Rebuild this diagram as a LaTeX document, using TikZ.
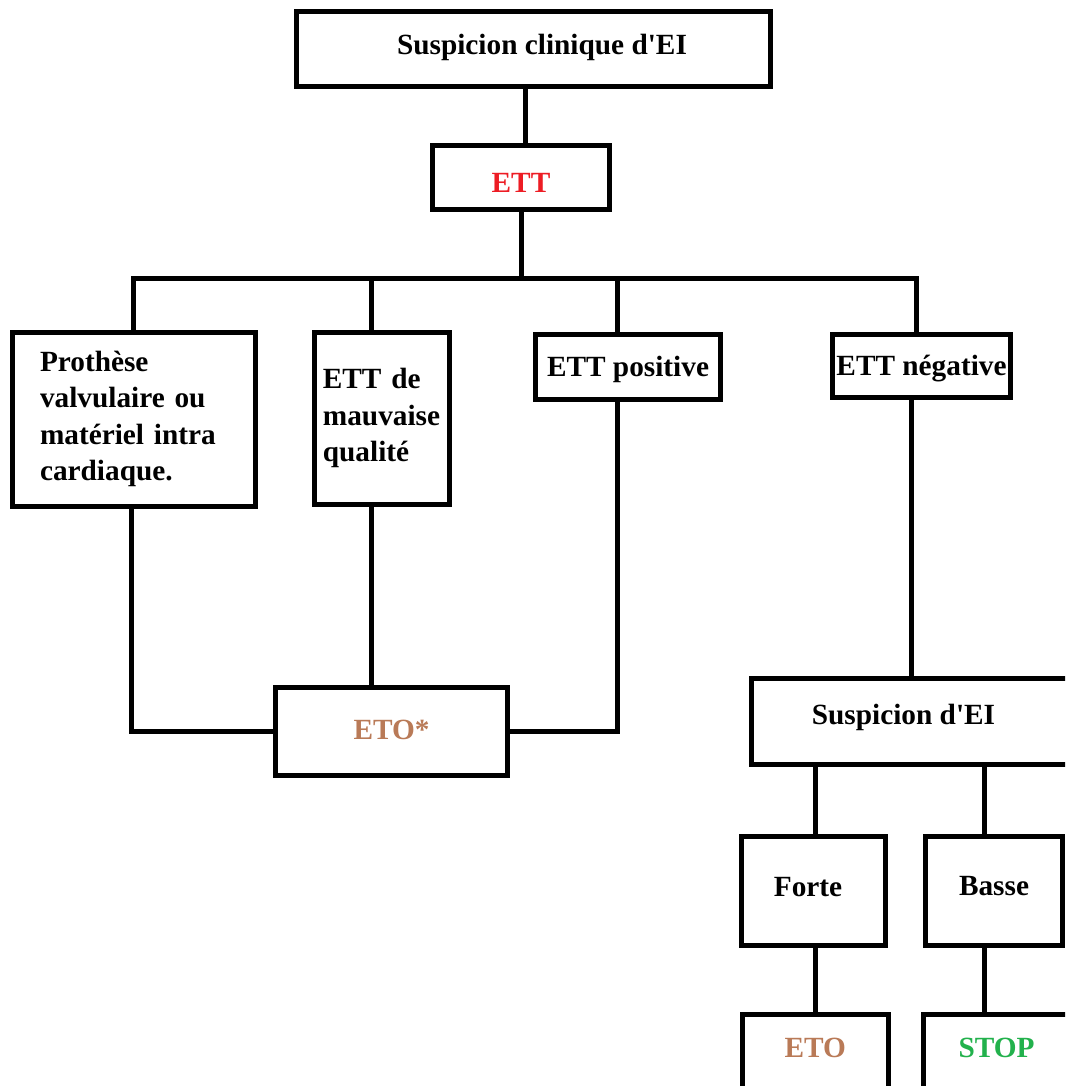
\documentclass[tikz,border=0pt]{standalone}
\usepackage{fontspec}
\setmainfont{Liberation Serif}[Ligatures=TeXOff]
\definecolor{ettred}{HTML}{ED1C24}
\definecolor{etobrown}{HTML}{B97A57}
\definecolor{stopgreen}{HTML}{22B14C}
\begin{document}
\begin{tikzpicture}[x=1pt,y=-1pt,line width=5pt,line join=miter,
  every node/.style={font=\bfseries\fontsize{29.3}{36.5}\selectfont},
  box/.style={draw,line width=5pt,rectangle,inner sep=0pt},
  multi/.style={box,align=left}]
\useasboundingbox (0,0) rectangle (1065,1086);
\clip (0,0) rectangle (1065,1086);

% boxes
\node[box,minimum width=474pt,minimum height=75pt,text height=21pt,text depth=10pt] (top) at (533.5,49.5) {\hspace*{17pt}Suspicion clinique d'EI};
\node[box,minimum width=177pt,minimum height=64pt,text height=30pt,text depth=0pt,text=ettred] (ett) at (521,177.6) {ETT};
\node[multi,minimum width=243pt,minimum height=174pt,text width=188pt] (proth) at (134,419) {Prothèse\\valvulaire ou\\matériel intra\\cardiaque.};
\node[multi,minimum width=135.3pt,minimum height=172pt,text width=118pt] (mauv) at (381.9,418) {ETT de\\mauvaise\\qualité};
\node[box,minimum width=185pt,minimum height=64.5pt,text height=20pt,text depth=1pt] (pos) at (628,366.75) {ETT positive};
\node[box,minimum width=178pt,minimum height=63pt,text height=20pt,text depth=1pt] (neg) at (921.5,366) {ETT négative};
\node[box,minimum width=232pt,minimum height=88pt,text height=21pt,text depth=6pt,text=etobrown] (etos) at (391.5,731.5) {ETO*};
\node[box,minimum width=318.5pt,minimum height=86pt,text height=21pt,text depth=16pt] (sus) at (910.75,721.5) {Suspicion d'EI\hspace*{14.5pt}};
\node[box,minimum width=144pt,minimum height=109pt,text height=21pt,text depth=11pt] (forte) at (813.5,891) {Forte\hspace*{11pt}};
\node[box,minimum width=137pt,minimum height=109pt,text height=21pt,text depth=13pt] (basse) at (994,891) {Basse};
\node[box,minimum width=145.5pt,minimum height=86pt,text height=21pt,text depth=21pt,text=etobrown] (eto) at (815.25,1057) {ETO};
\node[box,minimum width=147pt,minimum height=86pt,text height=21pt,text depth=21pt,text=stopgreen] (stop) at (996.5,1057) {STOP};

% connector columns
\coordinate (cTop) at (525,0);
\coordinate (bL) at (133.5,278.5);
\coordinate (bM) at (371.5,278.5);
\coordinate (bP) at (617,278.5);
\coordinate (bR) at (916,278.5);
\coordinate (cN) at (911.5,0);
\coordinate (cF) at (815,0);
\coordinate (cB) at (984,0);

% connectors
\draw (top.south -| cTop) -- (ett.north -| cTop);
\draw (ett.south) -- (ett.south |- bL);
\draw (bL |- proth.north) -- (bL) -- (bR) -- (bR |- neg.north);
\draw (bM) -- (bM |- mauv.north);
\draw (bP) -- (bP |- pos.north);
\draw (proth.south -| 131.5,0) -- (131.5,0 |- etos.west) -- (etos.west);
\draw (mauv.south -| bM) -- (etos.north -| bM);
\draw (pos.south -| bP) -- (bP |- etos.east) -- (etos.east);
\draw (neg.south -| cN) -- (sus.north -| cN);
\draw (sus.south -| cF) -- (forte.north -| cF);
\draw (sus.south -| cB) -- (basse.north -| cB);
\draw (forte.south -| cF) -- (eto.north -| cF);
\draw (basse.south -| cB) -- (stop.north -| cB);
\end{tikzpicture}
\end{document}
